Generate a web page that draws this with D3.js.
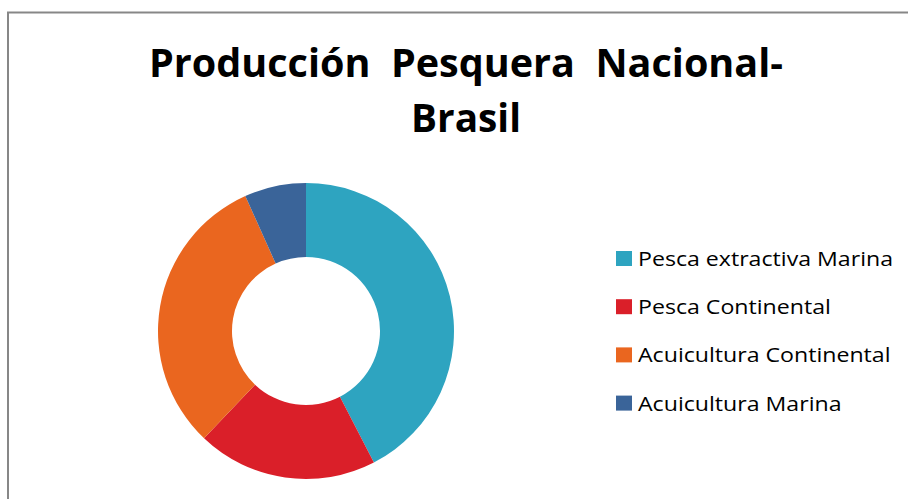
<!DOCTYPE html>
<html lang="es">
<head>
    <meta charset="UTF-8">
    <title>Producción Pesquera Nacional - Brasil</title>
    <script src="https://cdn.jsdelivr.net/npm/d3@7"></script>
    <style>
        body {
            margin: 0;
            background: #fff;
        }

        .title {
            font-family: "Open Sans", "Noto Sans", sans-serif;
            font-weight: bold;
            font-size: 40px;
            fill: #000;
            white-space: pre;
        }

        .legend text {
            font-family: "Open Sans", "Noto Sans", sans-serif;
            font-size: 20px;
            fill: #000;
        }
    </style>
</head>
<body>
<script>
    // production (tonnes) by source
    const categories = ["Pesca extractiva Marina", "Pesca Continental", "Acuicultura Continental", "Acuicultura Marina"];
    const values = [536455, 248911, 394340, 85057];
    const colors = ["#2EA4C0", "#DA1F29", "#EA661F", "#3A6499"];
    const titleLines = ["Producción  Pesquera  Nacional-", "Brasil"];

    const width = 908, height = 499;

    const svg = d3.select("body").append("svg")
        .attr("width", width)
        .attr("height", height);

    // chart area frame (only top and left edges visible)
    svg.append("path")
        .attr("d", "M8,499V12.5H908")
        .attr("fill", "none")
        .attr("stroke", "#878787")
        .attr("stroke-width", 2);

    // title
    const titleWidths = [634, 110];
    svg.selectAll(".title")
        .data(titleLines)
        .enter().append("text")
        .attr("class", "title")
        .attr("x", 466)
        .attr("y", (d, i) => 77 + i * 55)
        .attr("text-anchor", "middle")
        .text(d => d)
        .each(function (d, i) {
            d3.select(this)
                .attr("textLength", titleWidths[i])
                .attr("lengthAdjust", "spacingAndGlyphs");
        });

    // donut
    const cx = 306, cy = 331, outerR = 148, innerR = 74;
    const color = d3.scaleOrdinal().domain(categories).range(colors);

    const pie = d3.pie().sort(null).value(d => d.value);
    const arc = d3.arc().innerRadius(innerR).outerRadius(outerR);

    const data = categories.map((c, i) => ({ name: c, value: values[i] }));

    svg.append("g")
        .attr("transform", `translate(${cx},${cy})`)
        .selectAll("path")
        .data(pie(data))
        .enter().append("path")
        .attr("d", arc)
        .attr("fill", d => color(d.data.name));

    // legend
    const legend = svg.append("g")
        .attr("class", "legend")
        .attr("transform", "translate(616,266)");

    const item = legend.selectAll("g")
        .data(categories)
        .enter().append("g")
        .attr("transform", (d, i) => `translate(0,${i * 48.2})`);

    item.append("rect")
        .attr("x", 0)
        .attr("y", -15)
        .attr("width", 16)
        .attr("height", 15)
        .attr("fill", d => color(d));

    const labels = item.append("text")
        .attr("x", 22)
        .attr("y", 0)
        .text(d => d);

    // squeeze labels to match the narrower original face
    const natural = labels.nodes()[0].getComputedTextLength();
    const k = 255 / natural;
    labels.each(function () {
        const len = this.getComputedTextLength();
        d3.select(this)
            .attr("textLength", len * k)
            .attr("lengthAdjust", "spacingAndGlyphs");
    });
</script>
</body>
</html>
